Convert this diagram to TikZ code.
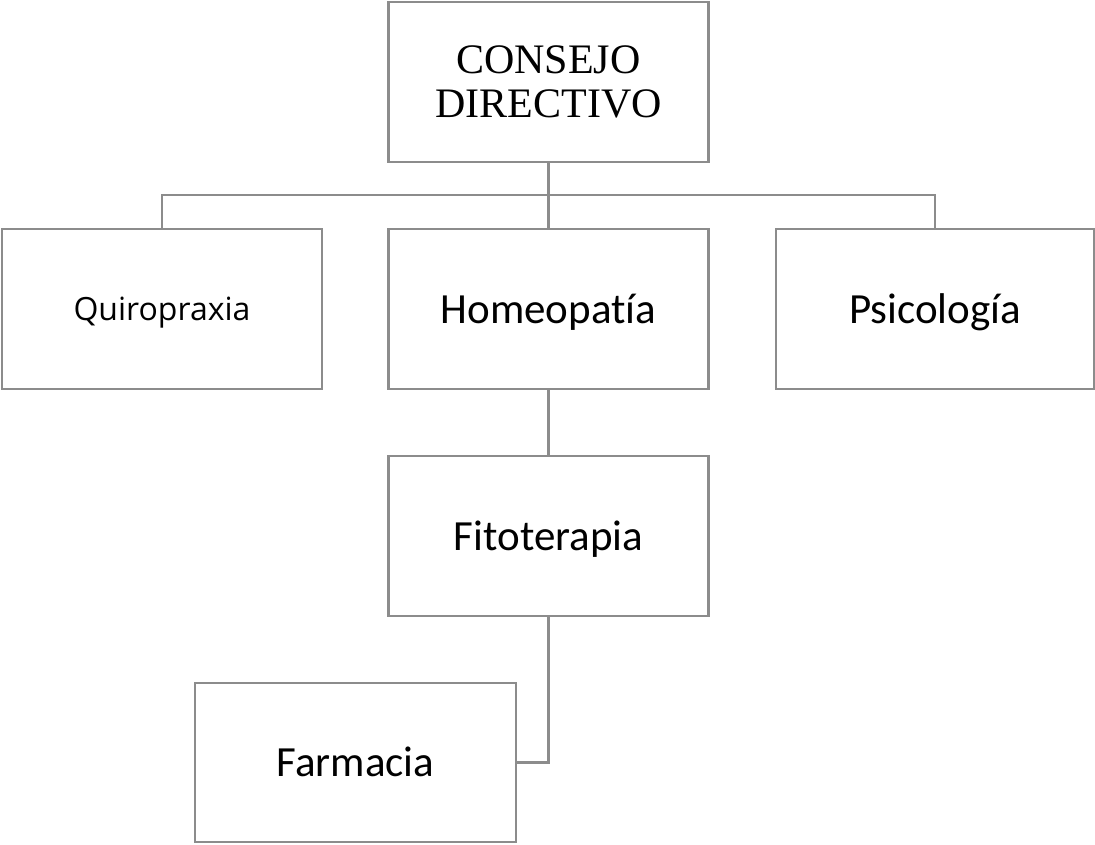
\documentclass[tikz,border=0pt]{standalone}
\usepackage{fontspec}
\setmainfont[Ligatures=NoCommon]{Carlito}
\newfontfamily\timesf{Liberation Serif}
\newfontfamily\opensf{Open Sans}
\definecolor{linegray}{RGB}{140,140,140}
\tikzset{
  box/.style={draw=linegray, line width=2.5pt, rectangle, inner sep=0pt,
    minimum width=320pt, minimum height=160pt},
  onebox/.style={box, text height=28pt, text depth=0pt, font=\fontsize{43}{50}\selectfont},
  conn/.style={draw=linegray, line width=2.5pt}
}
\begin{document}
\begin{tikzpicture}[x=1pt,y=-1pt]
\useasboundingbox[fill=white] (0,0) rectangle (1095,844);
\node[box, align=center, font=\timesf\fontsize{42}{44}\selectfont] (cd) at (548.5,82) {CONSEJO\\DIRECTIVO};
\node[box, text height=23pt, text depth=0pt, font=\opensf\fontsize{32}{36}\selectfont] (qu) at (162,309) {Quiropraxia};
\node[onebox] (ho) at (548.5,309) {Homeopatía};
\node[onebox, minimum width=318pt] (ps) at (935,309) {Psicología};
\node[onebox] (fi) at (548.5,536) {Fitoterapia};
\node[onebox, minimum width=321pt, minimum height=159pt] (fa) at (355.5,762.5) {Farmacia};
\coordinate (bus) at (548.5,195);
\draw[conn] (cd.south) -- (ho.north);
\draw[conn] (qu.north) |- (bus) -| (ps.north);
\draw[conn] (ho.south) -- (fi.north);
\draw[conn] (fi.south) |- (fa.east);
\end{tikzpicture}
\end{document}
